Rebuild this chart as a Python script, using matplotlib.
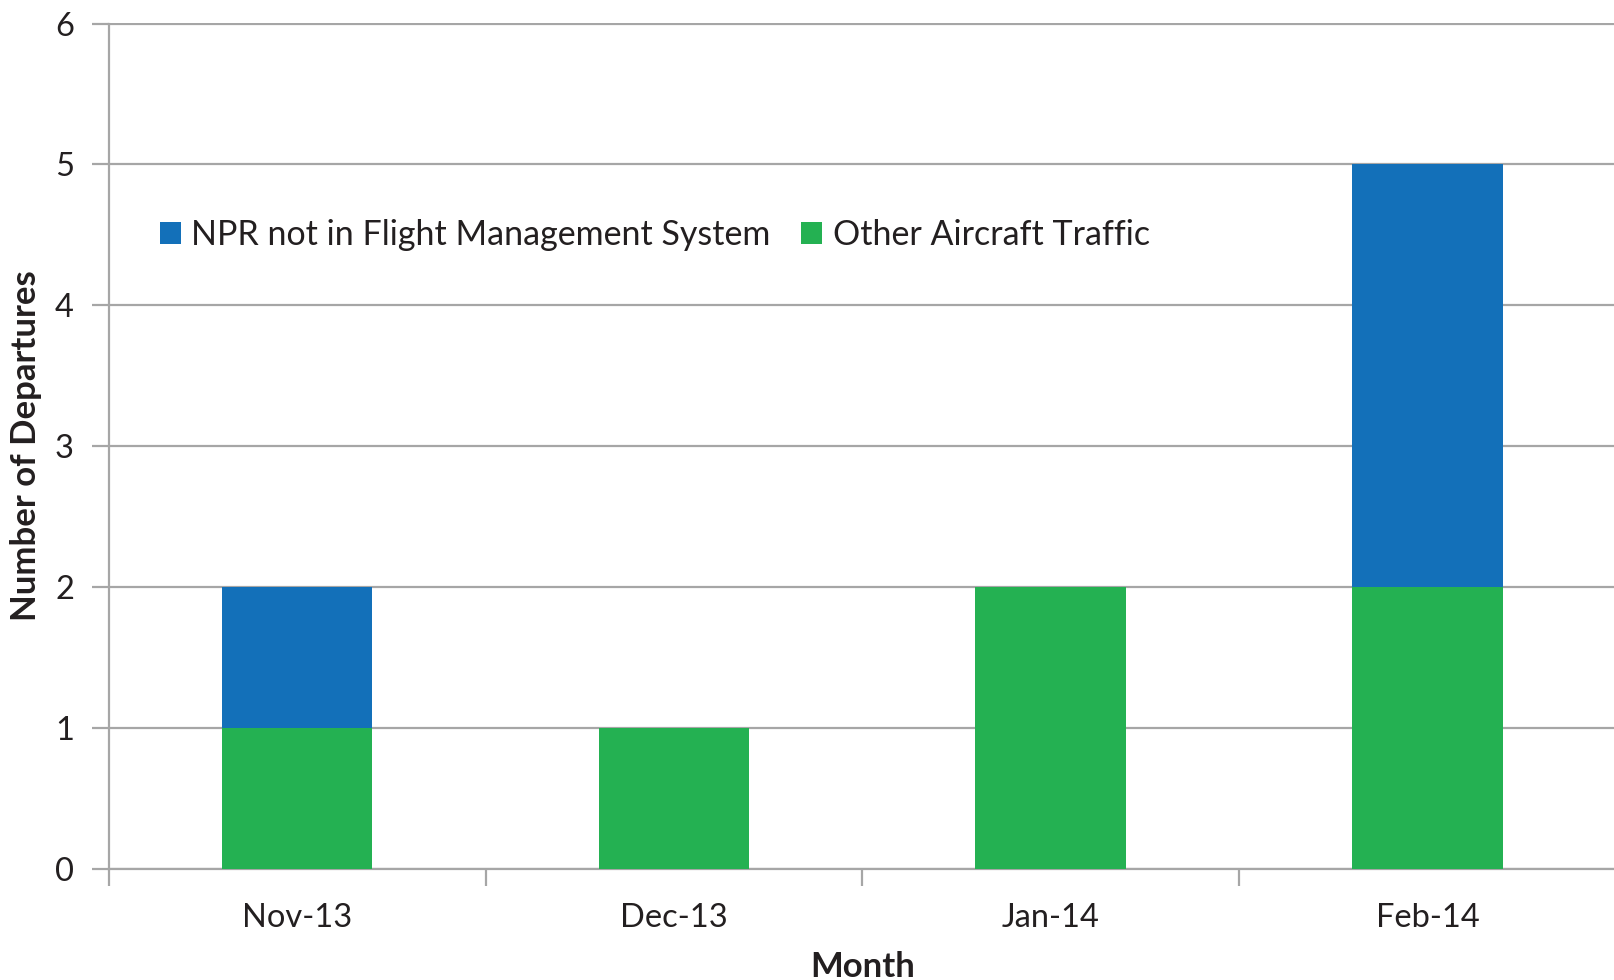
import matplotlib
matplotlib.use("Agg")
import matplotlib.pyplot as plt
import numpy as np

months = ["Nov-13", "Dec-13", "Jan-14", "Feb-14"]
other_traffic = [1, 1, 2, 2]
npr_not_fms = [1, 0, 0, 3]
series_labels = ["NPR not in Flight Management System", "Other Aircraft Traffic"]
y_ticks = [0, 1, 2, 3, 4, 5, 6]

BLUE = "#1370B9"
GREEN = "#24B152"
GRID = "#A6A6A6"
TEXT = "#231F20"

plt.rcParams['font.family'] = ['Lato', 'DejaVu Sans']

W, H = 1614, 980
fig = plt.figure(figsize=(W / 100, H / 100), dpi=100)
left, right, top, bottom = 108.7, 1616, 23.5, 868.7
ax = fig.add_axes([left / W, 1 - bottom / H, (right - left) / W, (bottom - top) / H])

x = np.arange(len(months))
ax.bar(x, other_traffic, width=0.4, color=GREEN, label=series_labels[1], zorder=3)
ax.bar(x, npr_not_fms, width=0.4, bottom=other_traffic, color=BLUE, label=series_labels[0], zorder=3)

ax.set_xlim(-0.5, len(months) - 0.5)
ax.set_ylim(0, 6)
ax.set_yticks(y_ticks)
ax.set_yticklabels([str(v) for v in y_ticks])
ax.yaxis.grid(True, color=GRID, linewidth=1.6, zorder=0)
ax.set_axisbelow(True)

ax.set_xticks(x)
ax.set_xticklabels(months)
ax.set_xticks(np.arange(-0.5, len(months), 1.0), minor=True)
ax.tick_params(axis='x', which='major', length=0, pad=25, labelsize=23.5, labelcolor=TEXT)
ax.tick_params(axis='x', which='minor', length=12, width=1.6, color=GRID, direction='out')
ax.tick_params(axis='y', length=12, width=1.6, color=GRID, direction='out', pad=13,
               labelsize=23.5, labelcolor=TEXT)

for s in ['top', 'right']:
    ax.spines[s].set_visible(False)
for s in ['left', 'bottom']:
    ax.spines[s].set_color(GRID)
    ax.spines[s].set_linewidth(1.6)

ax.set_ylabel("Number of Departures", fontsize=25, fontweight='bold', color=TEXT, va='center')
ax.yaxis.set_label_coords((26.5 - left) / (right - left), 0.5)
ax.set_xlabel("Month", fontsize=25, fontweight='bold', color=TEXT, va='center')
ax.xaxis.set_label_coords(0.5, (bottom - 967) / (bottom - top))

handles, labels = ax.get_legend_handles_labels()
leg = ax.legend(handles[::-1], labels[::-1], ncol=2, frameon=False,
                loc='center left', bbox_to_anchor=(160 / W, 1 - 234.7 / H),
                bbox_transform=fig.transFigure, borderpad=0, borderaxespad=0,
                fontsize=24.5, handlelength=0.62, handleheight=0.62,
                handletextpad=0.3, columnspacing=0.9)
for t in leg.get_texts():
    t.set_color(TEXT)

fig.savefig("out.png", dpi=100)
